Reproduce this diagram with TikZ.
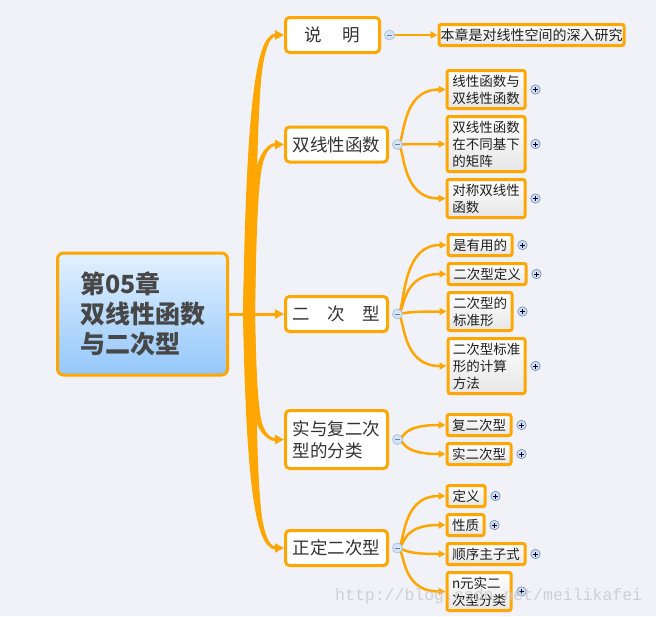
\documentclass[tikz,border=0pt]{standalone}
\usepackage{fontspec}
\setmainfont{Noto Sans CJK SC}
\newfontfamily\wmfont{Liberation Mono}
\usepackage{tikz}
\usetikzlibrary{arrows.meta,calc}

\definecolor{mmorange}{RGB}{255,166,0}
\definecolor{mmback}{RGB}{241,242,248}
\definecolor{mmtop}{RGB}{226,241,255}
\definecolor{mmbot}{RGB}{148,199,250}
\definecolor{mmtext}{RGB}{51,51,51}
\definecolor{mmleaf}{RGB}{230,230,230}
\definecolor{mmknob}{RGB}{212,227,248}
\definecolor{mmknobline}{RGB}{160,184,220}
\definecolor{mmplus}{RGB}{204,219,240}
\definecolor{mmplusline}{RGB}{120,142,176}

\begin{document}
\begin{tikzpicture}[x=1pt,y=-1pt,
	mainbox/.style={draw=mmorange,line width=3pt,rounded corners=6pt,top color=mmtop,bottom color=mmbot,
		minimum width=170pt,minimum height=122pt,text width=124pt,align=left,inner sep=0pt,
		text=black!72,font=\fontsize{25}{30}\selectfont\bfseries},
	topic/.style={draw=mmorange,line width=3pt,rounded corners=4pt,fill=white,minimum width=102pt,
		minimum height=35pt,align=left,inner sep=0pt,text=mmtext,font=\fontsize{17.5}{22}\selectfont},
	leaf/.style={draw=mmorange,line width=3pt,rounded corners=2pt,top color=white,bottom color=mmleaf,
		minimum height=21pt,anchor=west,align=left,inner sep=0pt,text=black!88,font=\fontsize{13.5}{17}\selectfont},
	trunk/.style={draw=mmorange,line width=3pt,-{Triangle[length=9pt,width=9pt]}},
	twig/.style={draw=mmorange,line width=2.5pt,-{Triangle[length=7pt,width=7pt]}},
	knobminus/.style={circle,draw=mmknobline,fill=mmknob,line width=0.6pt,minimum size=10pt,inner sep=0pt,
		path picture={\draw[mmknobline!70!black,line width=1pt] ([xshift=-2.5pt]path picture bounding box.center) -- ([xshift=2.5pt]path picture bounding box.center);}},
	knobplus/.style={circle,draw=mmplusline,fill=mmplus,line width=0.6pt,minimum size=9.5pt,inner sep=0pt,
		path picture={\draw[black!80!blue,line width=0.9pt] ([xshift=-2.5pt]path picture bounding box.center) -- ([xshift=2.5pt]path picture bounding box.center)
			([yshift=-2.5pt]path picture bounding box.center) -- ([yshift=2.5pt]path picture bounding box.center);}}]

	\fill[mmback] (0,0) rectangle (656,616);

	% centre and first level
	\node[mainbox] (main) at (142.5,314) {第05章\\双线性函数\\与二次型};
	\node[topic,minimum width=94pt] (sm) at (332.5,35) {说\hspace{1.2em}明};
	\node[topic] (sxx) at (336.5,144.5) {双线性函数};
	\node[topic] (ecx) at (336.5,314) {二\hspace{1em}次\hspace{1em}型};
	\node[topic,minimum height=58pt] (fl) at (336.5,439.5) {实与复二次\\型的分类};
	\node[topic] (zd) at (336.5,548) {正定二次型};

	% second level
	\node[leaf,minimum width=185pt,font=\fontsize{14}{17}\selectfont] (yj) at (437.5,35) {本章是对线性空间的深入研究};
	\node[leaf,minimum width=78pt,minimum height=38pt] (a1) at (445.5,89.5) {线性函数与\\双线性函数};
	\node[leaf,minimum width=78pt,minimum height=55pt] (a2) at (445.5,144) {双线性函数\\在不同基下\\的矩阵};
	\node[leaf,minimum width=78pt,minimum height=38pt] (a3) at (445.5,198.5) {对称双线性\\函数};
	\node[leaf,minimum width=64pt] (b1) at (446.5,245) {是有用的};
	\node[leaf,minimum width=78pt] (b2) at (446.5,274) {二次型定义};
	\node[leaf,minimum width=64pt,minimum height=38pt] (b3) at (446.5,311.5) {二次型的\\标准形};
	\node[leaf,minimum width=77pt,minimum height=55pt] (b4) at (446.5,366) {二次型标准\\形的计算\\方法};
	\node[leaf,minimum width=64pt] (c1) at (445.5,425) {复二次型};
	\node[leaf,minimum width=64pt] (c2) at (445.5,454) {实二次型};
	\node[leaf,minimum width=38pt] (d1) at (445.5,496) {定义};
	\node[leaf,minimum width=37pt] (d2) at (445.5,525) {性质};
	\node[leaf,minimum width=78pt] (d3) at (445.5,554) {顺序主子式};
	\node[leaf,minimum width=64pt,minimum height=38pt] (d4) at (445.5,591.5) {n元实二\\次型分类};

	% knobs
	\coordinate (hub) at (249,314);
	\foreach \n in {sm,sxx,ecx,fl,zd}
		\coordinate (\n k) at ([xshift=8.5pt]\n.east);

	% trunk
	\draw[mmorange,line width=3pt] (main.east) -- (hub);
	\foreach \t in {sm,sxx,fl,zd} {
		\fill[mmorange] let \p1=(hub), \p2=(\t.west), \n1={\y2+0.3*(\y1-\y2)} in
			(\x1-6pt,\y1) .. controls (\x1-3pt,\n1) and (\x1+6pt,\y2) .. (\x2-10pt,\y2)
			.. controls (\x1+10pt,\y2) and (\x1+8pt,\n1) .. (\x1+6pt,\y1) -- cycle;
		\draw[trunk] let \p1=(hub), \p2=(\t.west), \n1={\y2+0.3*(\y1-\y2)} in
			(hub) .. controls (\x1+3pt,\n1) and (\x1+9pt,\y2) .. (\t.west);
	}
	\draw[trunk] (hub) -- (ecx.west);

	% branches
	\foreach \k/\c in {smk/yj,sxxk/a1,sxxk/a2,sxxk/a3,ecxk/b1,ecxk/b2,ecxk/b3,ecxk/b4,
			flk/c1,flk/c2,zdk/d1,zdk/d2,zdk/d3,zdk/d4}
		\draw[twig] (\k) .. controls ($(\k)+(8,0)$) and ($(\k |- \c.west)+(2,0)$) .. (\c.west);

	\foreach \n in {sm,sxx,ecx,fl,zd}
		\node[knobminus] (\n m) at (\n k) {};
	\foreach \c in {a1,a2,a3,b1,b2,b3,b4,c1,c2,d1,d2,d3,d4}
		\node[knobplus] (\c p) at ([xshift=9pt]\c.east) {};

	\node[anchor=west,inner sep=0pt,text=black!22,opacity=0.8,font=\wmfont\fontsize{16.5}{16.5}\selectfont] (wm) at (335,596) {http://blog.csdn.net/meilikafei};
\end{tikzpicture}
\end{document}
